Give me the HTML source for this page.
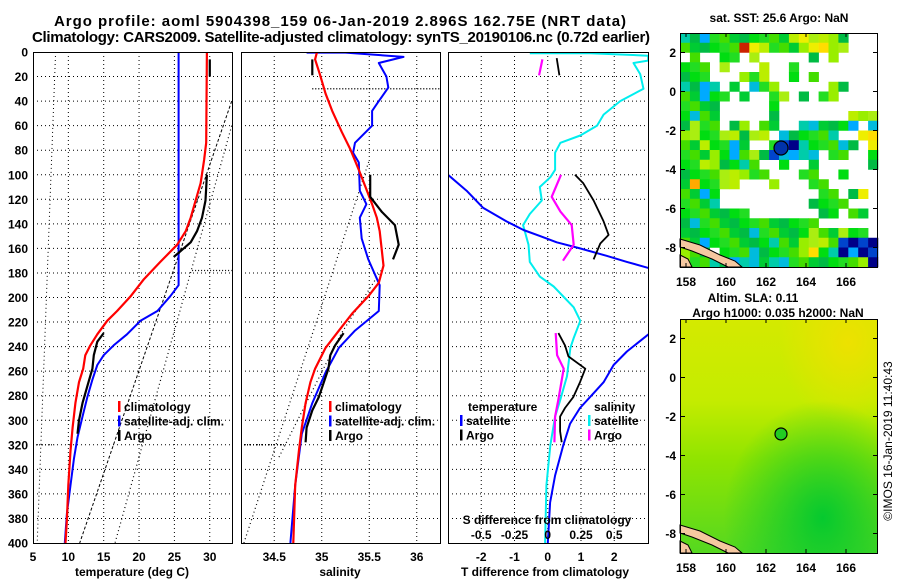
<!DOCTYPE html>
<html><head><meta charset="utf-8"><style>
html,body{margin:0;padding:0;background:#fff;}
svg{display:block;font-family:"Liberation Sans",sans-serif;}
</style></head><body>
<svg id="s" width="900" height="580" viewBox="0 0 900 580" xmlns="http://www.w3.org/2000/svg">
<defs>
<clipPath id="c1"><rect x="33" y="52" width="199" height="491"/></clipPath>
<clipPath id="c2"><rect x="241" y="52" width="199" height="491"/></clipPath>
<clipPath id="c3"><rect x="448" y="52" width="200" height="491"/></clipPath>
<linearGradient id="slaV" x1="0" y1="0" x2="0" y2="1">
<stop offset="0" stop-color="#d4ea00"/><stop offset="0.35" stop-color="#c4ec00"/><stop offset="0.6" stop-color="#90e400"/><stop offset="1" stop-color="#55d820"/></linearGradient>
<radialGradient id="slaR" cx="0.72" cy="0.85" r="0.5"><stop offset="0" stop-color="#00c830" stop-opacity="0.95"/><stop offset="1" stop-color="#00c830" stop-opacity="0"/></radialGradient>
<radialGradient id="slaY" cx="0.85" cy="0.1" r="0.35"><stop offset="0" stop-color="#f0e000" stop-opacity="0.9"/><stop offset="1" stop-color="#f0e000" stop-opacity="0"/></radialGradient>
</defs>
<text x="340" y="26" text-anchor="middle" font-size="15" font-weight="bold" textLength="572">Argo profile: aoml 5904398_159 06-Jan-2019 2.896S 162.75E (NRT data)</text>
<text x="341" y="42" text-anchor="middle" font-size="15" font-weight="bold" textLength="618">Climatology: CARS2009. Satellite-adjusted climatology: synTS_20190106.nc (0.72d earlier)</text>
<g id="g"></g>
</svg>
<script>
// ---- data ----
const depthTicks=[0,20,40,60,80,100,120,140,160,180,200,220,240,260,280,300,320,340,360,380,400];
const tempTicks=[5,10,15,20,25,30];
const salTicks=[34.5,35,35.5,36];
const salTickLabels=["34.5","35","35.5","36"];
const dTTicks=[-2,-1,0,1,2];
const dSTicks=[-0.5,-0.25,0,0.25,0.5];
const dSTickLabels=["-0.5","-0.25","0","0.25","0.5"];

const climT=[29.6,29.5,29.2,28.7,28.0,27.3,26.6,25.4,23.0,20.7,18.8,16.9,15.5,14.1,13.1,12.4,12.1,11.5,11.0,10.6,10.3,10.0,9.8,9.6];
const climTD=[0,74,88,107,121,135,146,157,171,185,199,211,219,230,239,247,258,269,286,306,325,353,381,400];
const satT=[25.6,25.6,24.4,22.6,20.2,18.3,16.4,15.0,14.1,13.4,12.7,12.0,11.3,10.8,10.3,9.8,9.5];
const satTD=[0,190,199,211,219,230,239,247,255,267,281,297,314,331,353,376,400];
const argoT1=[30.0,30.0];const argoT1D=[6,20];
const argoT2=[29.6,29.4,28.9,28.2,27.3,25.9,24.9];const argoT2D=[100,121,135,146,155,162,167];
const argoT3=[15.0,14.1,13.6,13.4,12.7,12.0,11.5,11.3];const argoT3D=[229,236,247,258,272,286,300,311];
const refTa=[8.2,5.6];const refTaD=[0,400];
const refTb=[33.1,11.6];const refTbD=[40,400];
const refTc=[33.1,16.6];const refTcD=[60,400];

const climS=[34.95,34.93,34.98,35.04,35.11,35.21,35.30,35.39,35.46,35.53,35.58,35.61,35.63,35.65,35.60,35.49,35.32,35.18,35.04,34.93,34.88,34.83,34.79,34.76,34.72,34.70];
const climSD=[0,6,18,34,48,65,79,96,110,124,135,146,160,174,188,199,213,227,241,258,269,286,306,325,353,400];
const satS=[34.84,35.25,35.86,35.6,35.68,35.70,35.6,35.53,35.53,35.35,35.33,35.39,35.40,35.47,35.40,35.42,35.49,35.61,35.60,35.35,35.18,35.04,34.90,34.79,34.72,34.67];
const satSD=[0.5,0.5,4,9,20,29,40,48,60,74,82,90,113,124,135,152,169,190,211,227,241,261,286,311,353,400];
const argoS1=[34.90,34.90];const argoS1D=[6,19];
const argoS2=[35.51,35.51,35.63,35.77,35.81,35.75];const argoS2D=[100,118,130,141,157,169];
const argoS3=[35.23,35.14,35.09,35.07,34.97,34.90,34.84,34.83];const argoS3D=[229,239,247,258,281,292,306,318];
const refSa=[34.18,35.5];const refSaD=[400,88];
const refSb=[34.55,35.2,35.65];const refSbD=[330,230,175];

const dTsat1=[-3.0,-2.44,-1.94,-1.24,-0.73,-0.23,0.27,0.97,1.77,2.38,3.03];const dTsat1D=[100,113,127,138,145,150,155,160,166,171,176];
const dTsat2=[3.03,2.38,1.98,1.68,1.38,0.97,0.67,0.47,0.22,0.07,0];const dTsat2D=[230,244,255,269,278,290,303,320,345,367,400];
const dTargo1=[0.27,0.35];const dTargo1D=[5,19];
const dTargo2=[0.82,1.07,1.38,1.68,1.83,1.58,1.38];const dTargo2D=[100,107,121,138,149,156,169];
const dTargo3=[0.32,0.52,0.62,1.13,0.97,0.77,0.52,0.37,0.37,0.42];const dTargo3D=[229,239,248,258,269,281,290,297,309,318];
const dSsat=[-0.135,0.32,0.755,0.755,0.645,0.695,0.72,0.545,0.42,0.37,0.245,0.095,0.055,0.055,0.02,-0.06,-0.045,-0.135,-0.185,-0.145,-0.135,-0.06,0.045,0.195,0.245,0.195,0.17,0.145,0.095,0.055,0.02,-0.01,-0.02];
const dSsatD=[1,1,3,7,9,18,30,40,51,60,68,74,82,96,102,110,121,132,141,157,171,183,191,208,219,233,241,264,283,297,320,353,400];
const dSargo1=[-0.04,-0.065];const dSargo1D=[6,19];
const dSargo2=[0.1,0.03,0.095,0.18,0.195,0.115];const dSargo2D=[100,118,130,141,157,170];
const dSargo3=[0.06,0.07,0.12,0.08,0.055,0.05];const dSargo3D=[229,247,258,283,297,318];

const lonTicks=[158,160,162,164,166];
const latTicks=[2,0,-2,-4,-6,-8];
const sstRows=[
"cgcggggggggyYyyyg...",
"ggggggoYygggyYYyy...",
".g..gg.y.....g.y....",
"ggg.y...y..g........",
"ggg...ygy..g.g......",
"cgcc.g.cgy.....yg...",
"ggcgg.g..gy.g.gy....",
"gggg.....g..........",
"gcgg.....g.......yyy",
"gygg.gy.gg..ccgggc.c",
"yyggyygyy.cggggc..YY",
"ggyggcg..gbbcgggcg.Y",
"gggygcgygbcccc.gg..g",
"ggyyggcg..g..g.....g",
"ggggyyygg...gg..g...",
"goggyy...y...gg.....",
"ggcg..........gg.gY.",
"gggc.........gggg...",
"ggggggg.......gg.gg.",
"gcgggggggggggg......",
"gggggggcgggggyggygg.",
"ggcggggggcggyyygbbbb",
"ygg.gggcggggyYgcbcbb",
"yggcgcccgccgggggggyb"];
const argoLon=162.75, argoLat=-2.896;

// ---- scales ----
const yD=d=>52+d*1.2275;
const xT=t=>33+(t-5)*7.07;
const xS=s=>241+(s-34.15)*95;
const xdT=t=>547.75+t*33.25;
const xdS=s=>547.75+s*133;
const mapX=lon=>680+(lon-157.7)*20;
const mapY=(lat,top)=>top+(3-lat)*19.5;

const NS="http://www.w3.org/2000/svg";
const root=document.getElementById('g');
function el(tag,attrs,parent){const e=document.createElementNS(NS,tag);for(const k in attrs)e.setAttribute(k,attrs[k]);(parent||root).appendChild(e);return e;}
function txt(x,y,s,opts,parent){const e=el('text',Object.assign({x:x,y:y,'font-size':12,'font-weight':'bold'},opts||{}),parent);e.textContent=s;return e;}
function line(xs,ds,fx,stroke,w,parent,dash,name){
  const pts=xs.map((v,i)=>fx(v).toFixed(1)+','+yD(ds[i]).toFixed(1)).join(' ');
  const e=el('polyline',{points:pts,fill:'none',stroke:stroke,'stroke-width':w,'stroke-linejoin':'round'},parent);
  if(dash)e.setAttribute('stroke-dasharray',dash);
  
  
  return e;
}
function panel(x0,x1,clip,name){
  const g=el('g',{});
  
  
  const inner=el('g',{'clip-path':'url(#'+clip+')'},g);
  depthTicks.forEach(d=>{if(d>0&&d<400){const l=el('line',{x1:x0,x2:x1,y1:yD(d),y2:yD(d),stroke:'#000','stroke-width':1,'stroke-dasharray':'1,3'},inner);
    
    }});
  return {g,inner};
}
function vgrid(inner,vals,fx){vals.forEach(v=>{const l=el('line',{x1:fx(v),x2:fx(v),y1:52,y2:543,stroke:'#000','stroke-width':1,'stroke-dasharray':'1,3'},inner);
  
  });}
function frame(g,x0,x1){const r=el('rect',{x:x0+0.5,y:52.5,width:x1-x0,height:491,fill:'none',stroke:'#000','stroke-width':1},g);
  
  }
function legend(g,x,y0,items){items.forEach((it,i)=>{const y=y0+i*14.5;
  const b=el('rect',{x:x,y:y-10,width:2.5,height:11,fill:it[1]},g);
  
  
  const t=txt(x+6,y,it[0],{},g);
  
  });}

// depth labels
depthTicks.forEach(d=>{const t=txt(28,yD(d)+4.5,String(d),{'text-anchor':'end'});
  
  });

// ---- panel 1 temperature ----
let P=panel(33,232,'c1','temperature-panel');
vgrid(P.inner,tempTicks,xT);
line(refTa,refTaD,xT,'#000',1,P.inner,'1,3','ref-dotted-a');
line(refTb,refTbD,xT,'#000',1,P.inner,'3,2','ref-dashed-b');
line(refTc,refTcD,xT,'#000',1.2,P.inner,'1,3','ref-dotted-c');
line([27.5,33.1],[178,178],xT,'#000',1.2,P.inner,'1,2','ref-hline-178');
line([5,8],[320,320],xT,'#000',1.2,P.inner,'1,2','ref-hline-320');
line(satT,satTD,xT,'#0000ff',2,P.inner,null,'temp-satellite-adj-line');
line(climT,climTD,xT,'#ff0000',2.2,P.inner,null,'temp-climatology-line');
line(argoT1,argoT1D,xT,'#000',2.2,P.inner,null,'temp-argo-line-top');
line(argoT2,argoT2D,xT,'#000',2.2,P.inner,null,'temp-argo-line-mid');
line(argoT3,argoT3D,xT,'#000',2.2,P.inner,null,'temp-argo-line-low');
frame(P.g,33,232);
legend(P.g,118,411,[['climatology','#ff0000'],['satellite-adj. clim.','#0000ff'],['Argo','#000']]);
tempTicks.forEach(v=>{const t=txt(xT(v),561,String(v),{'text-anchor':'middle'});
  
  });
let t0=txt(132,576,'temperature (deg C)',{'text-anchor':'middle'});



// ---- panel 2 salinity ----
P=panel(241,440,'c2','salinity-panel');
vgrid(P.inner,salTicks,xS);
line(refSa,refSaD,xS,'#000',1.2,P.inner,'1,3','sal-ref-dotted-a');
line(refSb,refSbD,xS,'#000',1.2,P.inner,'1,3','sal-ref-dotted-b');
line([34.9,36.25],[30,30],xS,'#000',1.5,P.inner,'1,2','sal-ref-hline-30');
line([34.15,34.6],[320,320],xS,'#000',1.5,P.inner,'1,2','sal-ref-hline-320');
line(satS,satSD,xS,'#0000ff',2,P.inner,null,'sal-satellite-adj-line');
line(climS,climSD,xS,'#ff0000',2.2,P.inner,null,'sal-climatology-line');
line(argoS1,argoS1D,xS,'#000',2.2,P.inner,null,'sal-argo-line-top');
line(argoS2,argoS2D,xS,'#000',2.2,P.inner,null,'sal-argo-line-mid');
line(argoS3,argoS3D,xS,'#000',2.2,P.inner,null,'sal-argo-line-low');
frame(P.g,241,440);
legend(P.g,329,411,[['climatology','#ff0000'],['satellite-adj. clim.','#0000ff'],['Argo','#000']]);
salTicks.forEach((v,i)=>{const t=txt(xS(v),561,salTickLabels[i],{'text-anchor':'middle'});
  
  });
t0=txt(340,576,'salinity',{'text-anchor':'middle'});



// ---- panel 3 differences ----
P=panel(448,648,'c3','difference-panel');
vgrid(P.inner,dTTicks,xdT);
line(dSsat,dSsatD,xdS,'#00eeee',2,P.inner,null,'sal-diff-satellite-line');
line(dTsat1,dTsat1D,xdT,'#0000ff',2,P.inner,null,'temp-diff-satellite-line-mid');
line(dTsat2,dTsat2D,xdT,'#0000ff',2,P.inner,null,'temp-diff-satellite-line-low');
line(dTargo1,dTargo1D,xdT,'#000',1.8,P.inner,null,'temp-diff-argo-top');
line(dTargo2,dTargo2D,xdT,'#000',1.8,P.inner,null,'temp-diff-argo-mid');
line(dTargo3,dTargo3D,xdT,'#000',1.8,P.inner,null,'temp-diff-argo-low');
line(dSargo1,dSargo1D,xdS,'#ff00ff',2.2,P.inner,null,'sal-diff-argo-top');
line(dSargo2,dSargo2D,xdS,'#ff00ff',2.2,P.inner,null,'sal-diff-argo-mid');
line(dSargo3,dSargo3D,xdS,'#ff00ff',2.2,P.inner,null,'sal-diff-argo-low');
frame(P.g,448,648);
t0=txt(468,411,'temperature',{},P.g);


legend(P.g,460,425,[['satellite','#0000ff'],['Argo','#000']]);
t0=txt(594,411,'salinity',{},P.g);


legend(P.g,588,425,[['satellite','#00eeee'],['Argo','#ff00ff']]);
t0=txt(547,524,'S difference from climatology',{'text-anchor':'middle'},P.g);


dSTicks.forEach((v,i)=>{const t=txt(xdS(v),539,dSTickLabels[i],{'text-anchor':'middle'},P.g);
  
  });
dTTicks.forEach(v=>{const t=txt(xdT(v),561,String(v),{'text-anchor':'middle'});
  
  });
t0=txt(545,576,'T difference from climatology',{'text-anchor':'middle'});



// ---- maps ----
const colMap={g:['#00cc33','#22dd22','#00bb44','#44dd00','#00dd11'],y:['#99ee00','#aaee11','#bbee00'],Y:['#eeee00','#ffdd00'],c:['#00ccaa','#00bbdd','#00aaff'],b:['#000088','#0044cc'],o:['#ffaa00','#cc2200']};
function coast(top,g){
  const p=el('polygon',{points:`680,${top+206} 700,${top+212} 720,${top+222} 735,${top+228} 742,${top+234} 728,${top+234} 712,${top+226} 692,${top+218} 680,${top+214}`,fill:'#f5c8a0',stroke:'#000','stroke-width':1},g);
  
  
  const p2=el('polygon',{points:`680,${top+222} 688,${top+226} 692,${top+234} 680,${top+234}`,fill:'#f5c8a0',stroke:'#000','stroke-width':1},g);
  
  
}
function mapAxes(g,top,name){
  const r=el('rect',{x:680.5,y:top+0.5,width:197,height:234,fill:'none',stroke:'#000','stroke-width':1},g);
  
  
  latTicks.forEach(v=>{const y=mapY(v,top);
    el('line',{x1:681,x2:685,y1:y,y2:y,stroke:'#000'},g);
    el('line',{x1:873,x2:878,y1:y,y2:y,stroke:'#000'},g);
    const t=txt(676,y+4.5,String(v),{'text-anchor':'end'},g);
    
    });
  lonTicks.forEach(v=>{const x=mapX(v);
    el('line',{x1:x,x2:x,y1:top+230,y2:top+234,stroke:'#000'},g);
    el('line',{x1:x,x2:x,y1:top,y2:top+4,stroke:'#000'},g);
    const t=txt(x,top+253,String(v),{'text-anchor':'middle'},g);
    
    });
}
// SST map
let mg=el('g',{});


sstRows.forEach((row,r)=>{for(let c=0;c<row.length&&c<20;c++){const ch=row[c];if(ch==='.')continue;const arr=colMap[ch];
  const cell=el('rect',{x:680+c*9.9,y:33+r*9.75,width:10.2,height:10,fill:arr[(r*3+c*7)%arr.length]},mg);
  
  }});
coast(33,mg);
let mk=el('circle',{cx:mapX(argoLon),cy:mapY(argoLat,33),r:7,fill:'#0033aa',stroke:'#000','stroke-width':1.2},mg);


mapAxes(mg,33,'sst-map');
t0=txt(779,22,'sat. SST: 25.6 Argo: NaN',{'text-anchor':'middle'},mg);


// SLA map
mg=el('g',{});


el('rect',{x:680,y:319,width:198,height:234,fill:'url(#slaV)'},mg);
el('rect',{x:680,y:319,width:198,height:234,fill:'url(#slaY)'},mg);
el('rect',{x:680,y:319,width:198,height:234,fill:'url(#slaR)'},mg);
coast(319,mg);
mk=el('circle',{cx:mapX(argoLon),cy:mapY(argoLat,319),r:6,fill:'#22cc22',stroke:'#000','stroke-width':1.2},mg);


mapAxes(mg,319,'sla-map');
t0=txt(753,302,'Altim. SLA: 0.11',{'text-anchor':'middle'},mg);


t0=txt(778,317,'Argo h1000: 0.035 h2000: NaN',{'text-anchor':'middle'},mg);


t0=txt(0,0,'©IMOS 16-Jan-2019 11:40:43',{'font-weight':'normal','text-anchor':'middle',transform:'translate(892,441) rotate(-90)'});


</script>
</body></html>
